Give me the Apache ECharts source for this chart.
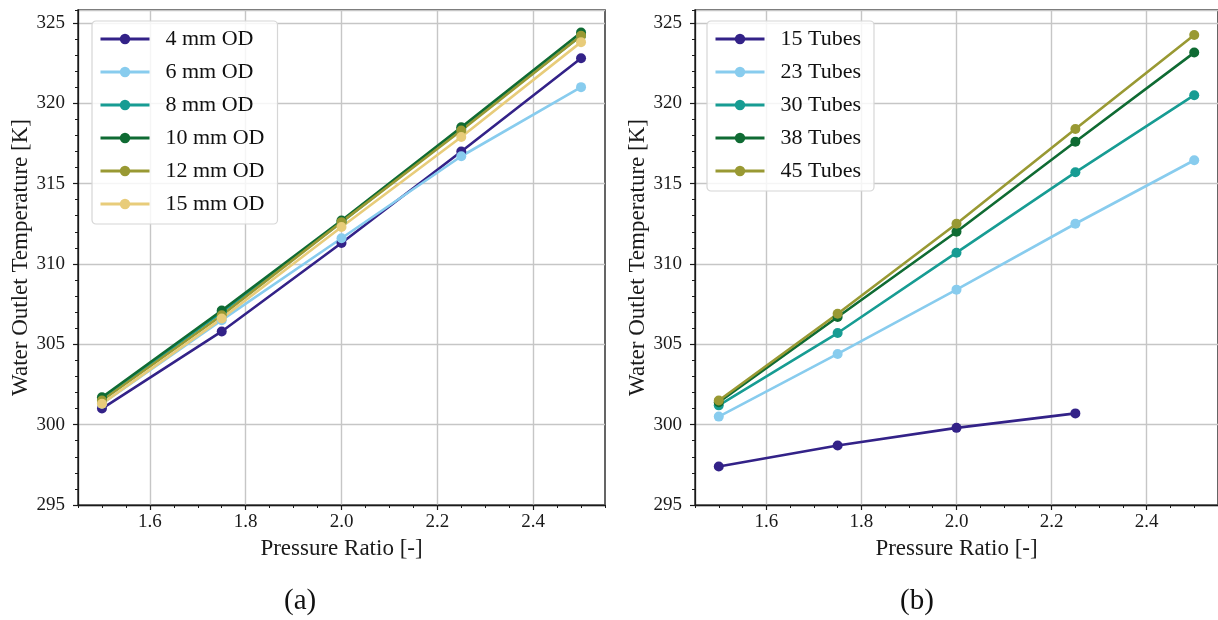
<!DOCTYPE html>
<html>
<head>
<meta charset="utf-8">
<script src="https://cdn.jsdelivr.net/npm/echarts@6/dist/echarts.min.js"></script>
<style>
html,body{margin:0;padding:0;background:#fff;}
#chart{width:1218px;height:620px;}
</style>
</head>
<body>
<div id="chart"></div>
<script>
// ---- data ----
const pressureRatio = [1.5, 1.75, 2.0, 2.25, 2.5];

const odNames = ['4 mm OD', '6 mm OD', '8 mm OD', '10 mm OD', '12 mm OD', '15 mm OD'];
const od4  = [301.0, 305.8, 311.3, 317.0, 322.8];
const od6  = [301.3, 306.5, 311.6, 316.7, 321.0];
const od8  = [301.6, 307.0, 312.6, 318.4, 324.2];
const od10 = [301.7, 307.1, 312.7, 318.5, 324.4];
const od12 = [301.5, 306.8, 312.6, 318.3, 324.2];
const od15 = [301.3, 306.6, 312.3, 317.9, 323.8];

const tubeNames = ['15 Tubes', '23 Tubes', '30 Tubes', '38 Tubes', '45 Tubes'];
const t15 = [297.4, 298.7, 299.8, 300.7, null];
const t23 = [300.5, 304.4, 308.4, 312.5, 316.45];
const t30 = [301.2, 305.7, 310.7, 315.7, 320.5];
const t38 = [301.4, 306.7, 312.0, 317.6, 323.15];
const t45 = [301.5, 306.9, 312.5, 318.4, 324.25];

const xTickLabels = ['1.6', '1.8', '2.0', '2.2', '2.4'];
const yTickLabels = ['295', '300', '305', '310', '315', '320', '325'];

const colorsA = ['#332288', '#88CCEE', '#179C93', '#0F6B33', '#999933', '#E8CC7A'];
const colorsB = ['#332288', '#88CCEE', '#179C93', '#0F6B33', '#999933'];

// ---- axis scaffolding ----
const X_MIN = 1.45, X_MAX = 2.55, X_STEP = 0.05;
const Y_MIN = 295, Y_MAX = 325.8;
const xSlots = [];
for (let k = 0; k <= Math.round((X_MAX - X_MIN) / X_STEP); k++) xSlots.push((X_MIN + k * X_STEP).toFixed(2));
const isMajorX = v => xTickLabels.indexOf(Number(v).toFixed(1)) >= 0 && Math.abs(Number(v) * 10 - Math.round(Number(v) * 10)) < 1e-6;

// ---- chart ----
const FONT = '"Liberation Serif", "DejaVu Serif", serif';
const INK = '#1a1a1a';
const GRIDC = '#c6c6c6';
const chart = echarts.init(document.getElementById('chart'), null, {renderer: 'canvas'});

function pairs(ys) {
  return pressureRatio.map((x, i) => ys[i] == null ? null : [x, ys[i]]).filter(p => p);
}

function xAxes(gi) {
  return [
    { // data axis
      type: 'value', gridIndex: gi, min: X_MIN, max: X_MAX, position: 'bottom',
      axisLine: {show: false}, axisTick: {show: false}, axisLabel: {show: false}, splitLine: {show: false}
    },
    { // major ticks, labels, grid lines
      type: 'category', gridIndex: gi, data: xSlots, boundaryGap: false, position: 'bottom',
      name: 'Pressure Ratio [-]', nameLocation: 'middle', nameGap: 32,
      nameTextStyle: {fontFamily: FONT, fontSize: 23, color: INK},
      axisLine: {show: true, onZero: false, lineStyle: {color: INK, width: 1.3}},
      axisTick: {show: true, inside: false, length: 5, interval: (i, v) => isMajorX(v), lineStyle: {color: INK, width: 1.2}},
      axisLabel: {show: true, interval: (i, v) => isMajorX(v), formatter: v => Number(v).toFixed(1),
        fontFamily: FONT, fontSize: 19, color: INK, margin: 8},
      splitLine: {show: true, interval: (i, v) => isMajorX(v), lineStyle: {color: GRIDC, width: 1.4}}
    },
    { // minor ticks
      type: 'value', gridIndex: gi, min: X_MIN, max: X_MAX, interval: X_STEP, position: 'bottom',
      axisLine: {show: false}, axisLabel: {show: false}, splitLine: {show: false},
      axisTick: {show: true, inside: false, length: 3, lineStyle: {color: INK, width: 1}}
    }
  ];
}

function yAxes(gi) {
  return [
    {
      type: 'value', gridIndex: gi, min: Y_MIN, max: Y_MAX, interval: 5, position: 'left',
      name: 'Water Outlet Temperature [K]', nameLocation: 'middle', nameGap: 46,
      nameTextStyle: {fontFamily: FONT, fontSize: 23, color: INK},
      axisLine: {show: true, onZero: false, lineStyle: {color: INK, width: 1.3}},
      axisTick: {show: true, inside: false, length: 5, lineStyle: {color: INK, width: 1.2}},
      axisLabel: {
        fontFamily: FONT, fontSize: 19, color: INK, margin: 13,
        showMaxLabel: false,
        formatter: v => yTickLabels.indexOf(String(v)) >= 0 ? String(v) : ''
      },
      splitLine: {show: true, lineStyle: {color: GRIDC, width: 1.4}}
    },
    { // minor ticks
      type: 'value', gridIndex: gi, min: Y_MIN, max: Y_MAX, interval: 1, position: 'left',
      axisLine: {show: false}, axisLabel: {show: false}, splitLine: {show: false},
      axisTick: {show: true, inside: false, length: 3, lineStyle: {color: INK, width: 1}}
    }
  ];
}

function lineSeries(name, ys, color, gi) {
  return {
    name, type: 'line', xAxisIndex: gi * 3, yAxisIndex: gi * 2,
    data: pairs(ys), symbol: 'circle', symbolSize: 10, showSymbol: true,
    lineStyle: {color, width: 2.6}, itemStyle: {color},
    animation: false, z: 3
  };
}

function legend(data, left, top) {
  return {
    data, orient: 'vertical', left, top,
    padding: [7, 13, 9, 7],
    itemWidth: 49, itemHeight: 13, itemGap: 11,
    backgroundColor: 'rgba(255,255,255,0.82)',
    borderColor: '#d6d6d6', borderWidth: 1.2, borderRadius: 4,
    lineStyle: {width: 3},
    textStyle: {fontFamily: FONT, fontSize: 22, color: '#111', padding: [0, 0, 0, 11], lineHeight: 20},
    z: 10
  };
}

const odData = [od4, od6, od8, od10, od12, od15];
const tubeData = [t15, t23, t30, t38, t45];

const series = [];
odNames.forEach((n, i) => series.push(lineSeries(n, odData[i], colorsA[i], 0)));
tubeNames.forEach((n, i) => series.push(lineSeries(n, tubeData[i], colorsB[i], 1)));

chart.setOption({
  backgroundColor: '#ffffff',
  animation: false,
  grid: [
    {left: 78, top: 10, width: 527, height: 495, show: true, borderColor: '#333', borderWidth: 1.5, backgroundColor: 'transparent'},
    {left: 695, top: 10, width: 526, height: 495, show: true, borderColor: '#333', borderWidth: 1.5, backgroundColor: 'transparent'}
  ],
  xAxis: xAxes(0).concat(xAxes(1)),
  yAxis: yAxes(0).concat(yAxes(1)),
  legend: [legend(odNames, 92, 21), legend(tubeNames, 707, 21)],
  series,
  graphic: [
    {type: 'text', left: 284, top: 587, style: {text: '(a)', font: '29px ' + FONT, fill: '#111'}},
    {type: 'text', left: 900, top: 587, style: {text: '(b)', font: '29px ' + FONT, fill: '#111'}}
  ]
});
</script>
</body>
</html>
